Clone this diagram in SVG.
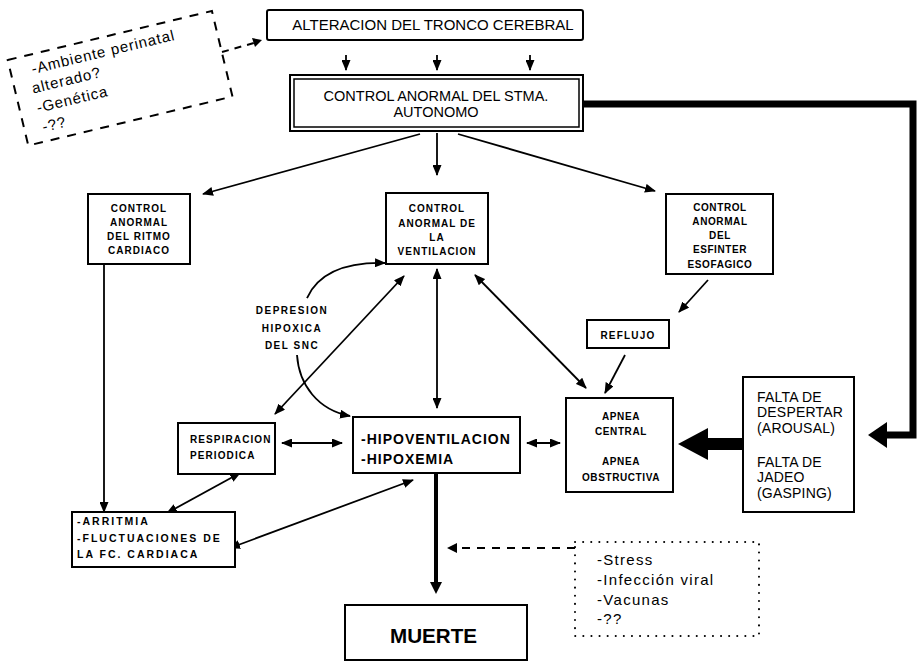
<svg xmlns="http://www.w3.org/2000/svg" width="917" height="663" viewBox="0 0 917 663">
<style>
.bx{fill:#fff;stroke:#000;stroke-width:2}
.ln{fill:none;stroke:#000;stroke-width:1.8}
.t{font-family:"Liberation Sans",Arial,sans-serif;fill:#000}
.sb{font-family:"Liberation Sans",Arial,sans-serif;font-weight:bold;font-size:10px;letter-spacing:1px;text-anchor:middle;fill:#000}
.sl{font-family:"Liberation Sans",Arial,sans-serif;font-weight:bold;font-size:10px;letter-spacing:1px;text-anchor:start;fill:#000}
.rg{font-family:"Liberation Sans",Arial,sans-serif;font-size:14px;fill:#000}
</style>
<defs>
<marker id="ah" markerUnits="userSpaceOnUse" markerWidth="11" markerHeight="9" refX="10" refY="4.5" orient="auto-start-reverse">
<path d="M0,0 L11,4.5 L0,9 z" fill="#000"/>
</marker>
</defs>
<rect width="917" height="663" fill="#fff"/>

<g id="connectors">
<path d="M222,52 L254,43" fill="none" stroke="#000" stroke-width="2" stroke-dasharray="7,6"/>
<polygon points="262,40 252,38 255,47" fill="#000"/>
<path class="ln" d="M346,55 V70" marker-end="url(#ah)"/>
<path class="ln" d="M437,55 V70" marker-end="url(#ah)"/>
<path class="ln" d="M530,55 V70" marker-end="url(#ah)"/>
<path class="ln" d="M437,133 V175" stroke-width="2.5" marker-end="url(#ah)"/>
<path class="ln" d="M420,134 L203,194" marker-end="url(#ah)"/>
<path class="ln" d="M458,134 L655,191" marker-end="url(#ah)"/>
<path d="M583,104 H913 V435 H885" fill="none" stroke="#000" stroke-width="7"/>
<polygon points="887,422 868,435 887,448" fill="#000"/>
<path class="ln" d="M104,264 V512" marker-end="url(#ah)"/>
<path class="ln" d="M437,269 V408" marker-start="url(#ah)" marker-end="url(#ah)"/>
<path class="ln" d="M404,276 L275,414" marker-start="url(#ah)" marker-end="url(#ah)"/>
<path class="ln" d="M475,275 L586,388" marker-start="url(#ah)" marker-end="url(#ah)"/>
<path class="ln" d="M307,298 C318,274 345,262 385,263" marker-end="url(#ah)"/>
<path class="ln" d="M297,355 C299,385 318,410 350,416" marker-end="url(#ah)"/>
<path class="ln" d="M708,280 L679,312" marker-end="url(#ah)"/>
<path class="ln" d="M625,355 L605,393" marker-end="url(#ah)"/>
<path class="ln" d="M282,443 H342" marker-start="url(#ah)" marker-end="url(#ah)"/>
<path class="ln" d="M527,443 H560" marker-start="url(#ah)" marker-end="url(#ah)"/>
<polygon points="743,438 708,438 708,428 678,444 708,460 708,450 743,450" fill="#000"/>
<path class="ln" d="M240,473 L167,513" marker-start="url(#ah)" marker-end="url(#ah)"/>
<path class="ln" d="M413,480 L230,548" marker-start="url(#ah)" marker-end="url(#ah)"/>
<path d="M436,473 V584" fill="none" stroke="#000" stroke-width="4"/>
<polygon points="430,582 442,582 436,594" fill="#000"/>
<path d="M575,548 H456" fill="none" stroke="#000" stroke-width="2" stroke-dasharray="8,7"/>
<polygon points="447,548 457,543 457,553" fill="#000"/>
</g>

<g id="factores-previos" transform="rotate(-13.5 119 78)">
<rect x="15" y="34.5" width="210" height="88" fill="none" stroke="#000" stroke-width="2" stroke-dasharray="9,8"/>
<text class="t" font-size="15" letter-spacing="0.9"><tspan x="36" y="54">-Ambiente perinatal</tspan><tspan x="32" y="73">alterado?</tspan><tspan x="32" y="93">-Genética</tspan><tspan x="33" y="113">-??</tspan></text>
</g>

<g id="alteracion-tronco">
<rect class="bx" x="267" y="10" width="316" height="30" rx="2"/>
<text class="t" x="433" y="30" font-size="15" text-anchor="middle">ALTERACION DEL TRONCO CEREBRAL</text>
</g>

<g id="control-autonomo">
<rect class="bx" x="290" y="75" width="293" height="56"/>
<rect x="294" y="79" width="285" height="48" fill="none" stroke="#000" stroke-width="1.5"/>
<text class="t" x="436" y="101" font-size="14.5" text-anchor="middle">CONTROL ANORMAL DEL STMA.</text>
<text class="t" x="436" y="117" font-size="14.5" text-anchor="middle">AUTONOMO</text>
</g>

<g id="ritmo-cardiaco">
<rect class="bx" x="88" y="194" width="102" height="70"/>
<text class="sb"><tspan x="139" y="212">CONTROL</tspan><tspan x="139" y="226">ANORMAL</tspan><tspan x="139" y="240">DEL RITMO</tspan><tspan x="139" y="254">CARDIACO</tspan></text>
</g>

<g id="ventilacion">
<rect class="bx" x="386" y="193" width="102" height="71"/>
<text class="sb"><tspan x="437" y="212">CONTROL</tspan><tspan x="437" y="227">ANORMAL DE</tspan><tspan x="437" y="241">LA</tspan><tspan x="437" y="255">VENTILACION</tspan></text>
</g>

<g id="esfinter">
<rect class="bx" x="666" y="194" width="107" height="80"/>
<text class="sb" style="letter-spacing:0.6px"><tspan x="720" y="211">CONTROL</tspan><tspan x="720" y="225">ANORMAL</tspan><tspan x="720" y="239">DEL</tspan><tspan x="720" y="253">ESFINTER</tspan><tspan x="720" y="268">ESOFAGICO</tspan></text>
</g>

<g id="depresion">
<text class="sb" style="letter-spacing:1.5px"><tspan x="292" y="314">DEPRESION</tspan><tspan x="292" y="332">HIPOXICA</tspan><tspan x="292" y="349">DEL SNC</tspan></text>
</g>

<g id="reflujo">
<rect class="bx" x="587" y="320" width="82" height="28"/>
<text class="sb" x="628" y="339" style="letter-spacing:1.2px">REFLUJO</text>
</g>

<g id="apnea">
<rect class="bx" x="566" y="398" width="107" height="94"/>
<text class="sb" style="letter-spacing:0.6px"><tspan x="621" y="420">APNEA</tspan><tspan x="621" y="435">CENTRAL</tspan><tspan x="621" y="465">APNEA</tspan><tspan x="621" y="481">OBSTRUCTIVA</tspan></text>
</g>

<g id="falta">
<rect class="bx" x="743" y="377" width="111" height="135"/>
<text class="rg" letter-spacing="0.2"><tspan x="757" y="402">FALTA DE</tspan><tspan x="757" y="417">DESPERTAR</tspan><tspan x="757" y="433">(AROUSAL)</tspan><tspan x="757" y="467">FALTA DE</tspan><tspan x="757" y="482">JADEO</tspan><tspan x="757" y="498">(GASPING)</tspan></text>
</g>

<g id="respiracion">
<rect class="bx" x="178" y="423" width="97" height="51"/>
<text class="sl" style="letter-spacing:1.1px"><tspan x="190" y="443">RESPIRACION</tspan><tspan x="190" y="459">PERIODICA</tspan></text>
</g>

<g id="hipoventilacion">
<rect class="bx" x="353" y="417" width="167" height="56"/>
<text class="t" font-size="14" font-weight="bold" letter-spacing="1"><tspan x="361" y="444">-HIPOVENTILACION</tspan><tspan x="361" y="464">-HIPOXEMIA</tspan></text>
</g>

<g id="arritmia">
<rect class="bx" x="72" y="512" width="163" height="55"/>
<text class="sl" style="font-size:10.5px;letter-spacing:2px"><tspan x="77" y="525">-ARRITMIA</tspan><tspan x="77" y="542">-FLUCTUACIONES DE</tspan><tspan x="77" y="558">LA FC. CARDIACA</tspan></text>
</g>

<g id="muerte">
<rect class="bx" x="345" y="605" width="182" height="55"/>
<text class="t" x="390" y="643" font-size="21" font-weight="bold" textLength="87" lengthAdjust="spacingAndGlyphs">MUERTE</text>
</g>

<g id="factores-desencadenantes">
<rect x="575" y="542" width="184" height="94" fill="none" stroke="#000" stroke-width="2" stroke-dasharray="0.1,8" stroke-linecap="round"/>
<text class="t" font-size="15" letter-spacing="1.3"><tspan x="597" y="565">-Stress</tspan><tspan x="597" y="585">-Infección viral</tspan><tspan x="597" y="605">-Vacunas</tspan><tspan x="597" y="624">-??</tspan></text>
</g>
</svg>
